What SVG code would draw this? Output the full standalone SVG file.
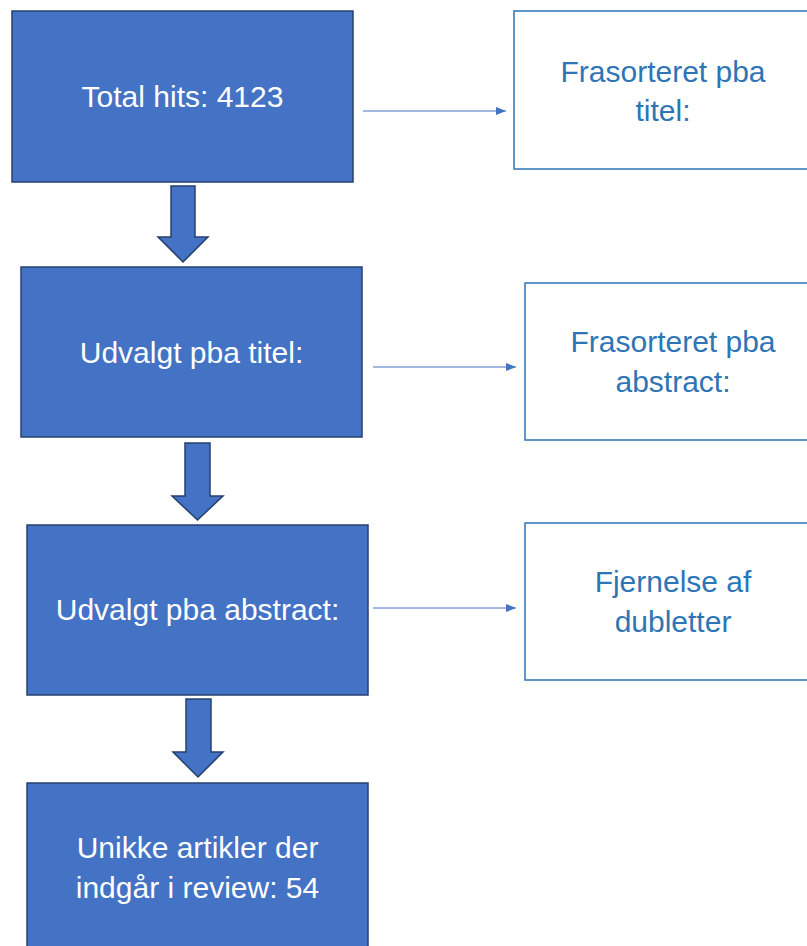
<svg xmlns="http://www.w3.org/2000/svg" width="807" height="946" viewBox="0 0 807 946">
<style>
.main{fill:#4472C4;stroke:#24406E;stroke-width:1.5}
.side{fill:#ffffff;stroke:#2E75B6;stroke-width:1.5}
.mt{font-family:"Liberation Sans",Arial,sans-serif;font-size:30px;fill:#ffffff;text-anchor:middle}
.st{font-family:"Liberation Sans",Arial,sans-serif;font-size:30px;fill:#2E75B6;text-anchor:middle}
.conn{stroke:#4472C4;stroke-width:1;fill:none}
.bigarrow{fill:#4472C4;stroke:#24406E;stroke-width:1.5;stroke-linejoin:miter}
</style>
<defs>
<marker id="ah" markerWidth="10" markerHeight="8" refX="10" refY="4" orient="auto" markerUnits="userSpaceOnUse">
<path d="M0,0 L10,4 L0,8 Z" fill="#4472C4"/>
</marker>
</defs>
<rect width="807" height="946" fill="#ffffff"/>
<g id="n1"><rect class="main" x="12" y="11" width="341" height="171"/><text class="mt" x="182.5" y="107">Total hits: 4123</text></g>
<g id="n2"><rect class="main" x="21" y="267" width="341" height="170"/><text class="mt" x="191.5" y="363">Udvalgt pba titel:</text></g>
<g id="n3"><rect class="main" x="27" y="525" width="341" height="170"/><text class="mt" x="197.5" y="620">Udvalgt pba abstract:</text></g>
<g id="n4"><rect class="main" x="27" y="783" width="341" height="175"/><text class="mt" x="197.5" y="858">Unikke artikler der</text><text class="mt" x="197.5" y="898">indgår i review: 54</text></g>
<g id="r1"><rect class="side" x="514" y="11" width="300" height="158"/><text class="st" x="663" y="82">Frasorteret pba</text><text class="st" x="663" y="121">titel:</text></g>
<g id="r2"><rect class="side" x="525" y="283" width="290" height="157"/><text class="st" x="673" y="352">Frasorteret pba</text><text class="st" x="673" y="392">abstract:</text></g>
<g id="r3"><rect class="side" x="525" y="523" width="290" height="157"/><text class="st" x="673" y="592">Fjernelse af</text><text class="st" x="673" y="632">dubletter</text></g>
<g id="connectors">
<path class="bigarrow" d="M171,186 H195 V237 H208 L183,262 L158,237 H171 Z"/>
<path class="bigarrow" d="M185,443 H210 V496 H223 L197.5,520 L172,496 H185 Z"/>
<path class="bigarrow" d="M186,699 H211 V752 H223 L198,777 L173,752 H186 Z"/>
<line class="conn" x1="363" y1="111" x2="506" y2="111" marker-end="url(#ah)"/>
<line class="conn" x1="373" y1="367" x2="516" y2="367" marker-end="url(#ah)"/>
<line class="conn" x1="373" y1="608" x2="516" y2="608" marker-end="url(#ah)"/>
</g>
</svg>
